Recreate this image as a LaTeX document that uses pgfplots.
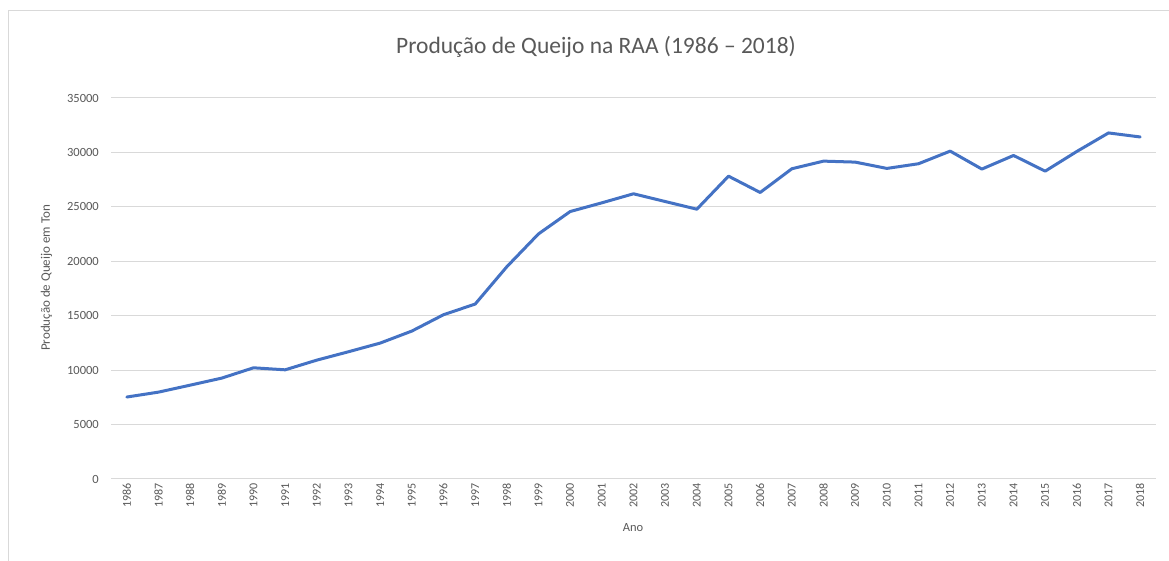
\documentclass[border=0pt]{standalone}
\usepackage{pgfplots}
\pgfplotsset{compat=1.18}
\usepackage{fontspec}
\setmainfont{Carlito}
\definecolor{txt}{HTML}{595959}
\definecolor{grd}{HTML}{D9D9D9}
\definecolor{ln}{HTML}{4472C4}
\begin{document}
\begin{tikzpicture}[x=1pt,y=1pt]
\useasboundingbox[fill=white] (0,0) rectangle (1169,561);
\draw[grd, line width=1pt] (8,0) -- (8,550) -- (1169,550);
\node[txt, font=\fontsize{23.5}{28}\selectfont] at (596,514) {Produção de Queijo na RAA (1986 – 2018)};
\node[txt, rotate=90, font=\fontsize{13}{15}\selectfont] at (46.5,283) {Produção de Queijo em Ton};
\node[txt, font=\fontsize{12.5}{15}\selectfont] at (633,33) {Ano};
\begin{axis}[
  at={(111pt,82pt)}, anchor=south west,
  scale only axis, width=1045pt, height=381pt,
  xmin=1985.5, xmax=2018.5, ymin=0, ymax=35000,
  xtick={1986,...,2018}, ytick={0,5000,...,35000},
  scaled y ticks=false,
  /pgf/number format/assume math mode=true,
  /pgf/number format/set thousands separator={},
  /pgf/number format/1000 sep={},
  axis line style={draw=none},
  major tick length=0pt,
  ymajorgrids, grid style={grd, line width=1pt},
  yticklabel style={txt, anchor=east, inner xsep=12pt, inner ysep=0pt, font=\fontsize{12.5}{15}\selectfont},
  xticklabel style={txt, rotate=90, anchor=east, inner sep=4pt, font=\fontsize{12}{14}\selectfont},
  clip=false,
]
\addplot[ln, line width=3pt, line join=round, line cap=round] coordinates {
(1986,7530) (1987,7980) (1988,8620) (1989,9270) (1990,10215) (1991,10030)
(1992,10920) (1993,11690) (1994,12485) (1995,13590) (1996,15090) (1997,16070)
(1998,19500) (1999,22515) (2000,24570) (2001,25370) (2002,26200) (2003,25490)
(2004,24785) (2005,27820) (2006,26320) (2007,28500) (2008,29200) (2009,29110)
(2010,28530) (2011,28960) (2012,30120) (2013,28470) (2014,29720) (2015,28280)
(2016,30090) (2017,31790) (2018,31420)
};
\end{axis}
\end{tikzpicture}
\end{document}
